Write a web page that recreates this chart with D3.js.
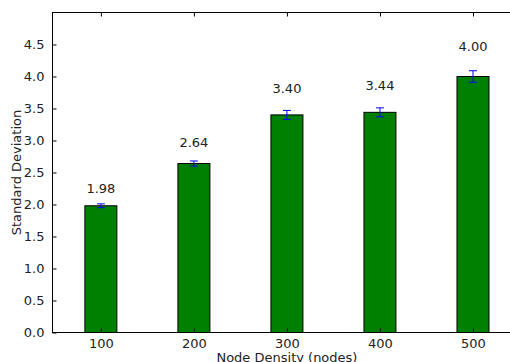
<!DOCTYPE html>
<html>
<head>
<meta charset="utf-8">
<script src="https://cdn.jsdelivr.net/npm/d3@7"></script>
<style>
  body { margin: 0; background: #fff; }
  text { font-family: "DejaVu Sans", sans-serif; fill: #222; }
</style>
</head>
<body>
<svg id="chart" width="510" height="362"></svg>
<script>
// Data
var densities = [100, 200, 300, 400, 500];
var stdDevs = [1.98, 2.64, 3.40, 3.44, 4.00];
var errors = [0.03, 0.04, 0.07, 0.07, 0.09];
var yTicks = [0.0, 0.5, 1.0, 1.5, 2.0, 2.5, 3.0, 3.5, 4.0, 4.5];

var svg = d3.select("#chart");

// scales (plot area runs past the right edge of the picture)
var xScale = d3.scaleLinear().domain([48, 550]).range([52.5, 519.5]);
var yScale = d3.scaleLinear().domain([0, 5]).range([332.5, 12.5]);
var barW = 32;

// Bars
svg.selectAll(".bar")
   .data(densities)
   .enter()
   .append("rect")
   .attr("class", "bar")
   .attr("x", function(d) { return xScale(d) - barW/2; })
   .attr("y", function(d, i) { return yScale(stdDevs[i]); })
   .attr("width", barW)
   .attr("height", function(d, i) { return yScale(0) - yScale(stdDevs[i]); })
   .style("fill", "#008000")
   .style("stroke", "#000")
   .style("stroke-width", 1);

// Error bars
var err = svg.selectAll(".err")
   .data(densities)
   .enter()
   .append("g")
   .attr("class", "err")
   .style("stroke", "#0000ff")
   .style("stroke-width", 1);
err.append("line")
   .attr("x1", function(d) { return xScale(d); })
   .attr("x2", function(d) { return xScale(d); })
   .attr("y1", function(d, i) { return yScale(stdDevs[i] - errors[i]); })
   .attr("y2", function(d, i) { return yScale(stdDevs[i] + errors[i]); });
[-1, 1].forEach(function(s) {
  err.append("line")
     .attr("x1", function(d) { return xScale(d) - 4; })
     .attr("x2", function(d) { return xScale(d) + 4; })
     .attr("y1", function(d, i) { return yScale(stdDevs[i] + s*errors[i]); })
     .attr("y2", function(d, i) { return yScale(stdDevs[i] + s*errors[i]); });
});

// Value labels
svg.selectAll(".val")
   .data(densities)
   .enter()
   .append("text")
   .attr("class", "val")
   .attr("x", function(d) { return xScale(d); })
   .attr("y", function(d, i) { return yScale(stdDevs[i] * 1.1); })
   .attr("text-anchor", "middle")
   .style("font-size", "13px")
   .text(function(d, i) { return d3.format(".2f")(stdDevs[i]); });

// Axes (ticks pointing inward)
var yAxis = d3.axisLeft(yScale).tickValues(yTicks).tickFormat(d3.format(".1f"))
              .tickSizeInner(-4).tickSizeOuter(0).tickPadding(8);
var gy = svg.append("g").attr("transform", "translate(" + xScale(48) + ",0)").call(yAxis);
gy.select(".domain").remove();
gy.selectAll("text").style("font-size", "13px");

var xa = d3.axisBottom(xScale).tickValues(densities).tickFormat(d3.format("d"))
           .tickSizeInner(-4).tickSizeOuter(0).tickPadding(6);
var gx = svg.append("g").attr("transform", "translate(0," + yScale(0) + ")").call(xa);
gx.select(".domain").remove();
gx.selectAll("text").style("font-size", "13px");

var xt = d3.axisTop(xScale).tickValues(densities).tickFormat("").tickSizeInner(-4).tickSizeOuter(0);
var gt = svg.append("g").attr("transform", "translate(0," + yScale(5) + ")").call(xt);
gt.select(".domain").remove();

svg.selectAll(".tick line").style("stroke", "#000");

// Frame
svg.append("rect")
   .attr("x", xScale(48))
   .attr("y", yScale(5))
   .attr("width", xScale(550) - xScale(48))
   .attr("height", yScale(0) - yScale(5))
   .style("fill", "none")
   .style("stroke", "#000")
   .style("stroke-width", 1);

// Axis titles
svg.append("text")
   .attr("x", xScale(300))
   .attr("y", 362)
   .attr("text-anchor", "middle")
   .style("font-size", "13px")
   .text("Node Density (nodes)");
svg.append("text")
   .attr("transform", "translate(21," + yScale(2.5) + ") rotate(-90)")
   .attr("text-anchor", "middle")
   .style("font-size", "13px")
   .text("Standard Deviation");
</script>
</body>
</html>
